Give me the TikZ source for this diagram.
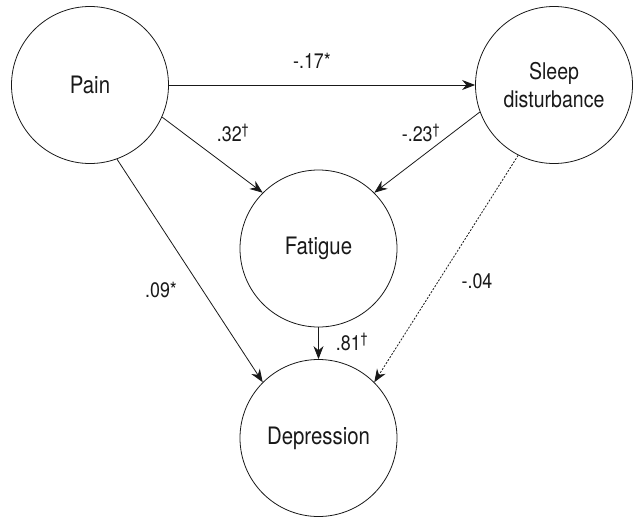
\documentclass[tikz,border=0pt]{standalone}
\usepackage{fontspec}
\setmainfont[FakeStretch=0.85]{TeX Gyre Heros}
\usetikzlibrary{arrows.meta}

\tikzset{
  var/.style={draw, circle, minimum size=157pt, inner sep=0pt, line width=0.8pt,
    align=center, font=\fontsize{24}{27}\selectfont},
  effect/.style={draw, line width=0.8pt, -{Stealth[length=13pt,width=10pt]}},
  coef/.style={inner sep=0pt, font=\fontsize{21}{21}\selectfont},
}

\begin{document}
\begin{tikzpicture}[x=1pt, y=-1pt, black!90]
  \useasboundingbox (0,0) rectangle (633,517);
  \node[var] (pain) at (90,85) {Pain};
  \node[var, font=\fontsize{23}{28}\selectfont] (sleep) at (554,85) {Sleep\\disturbance};
  \node[var] (fatigue) at (318.5,248.5) {Fatigue};
  \node[var] (depr) at (318.5,438) {Depression};
  \draw[effect] (pain.east) -- (sleep.west);
  \draw[effect] (pain.-24) -- (fatigue.135);
  \draw[effect] (sleep.200) -- (fatigue.45);
  \draw[effect] (pain.-70) -- (depr.135);
  \draw[effect, dash pattern=on 2pt off 1.5pt] (sleep.-117) -- (depr.45);
  \draw[effect] (fatigue.south) -- (depr.north);
  \node[coef] (c-ps) at (312,61) {-.17*};
  \node[coef] (c-pf) at (233,133) {.32\textsuperscript{\textdagger}};
  \node[coef] (c-sf) at (421,133) {-.23\textsuperscript{\textdagger}};
  \node[coef] (c-pd) at (161,290) {.09*};
  \node[coef] (c-sd) at (477,281.5) {-.04};
  \node[coef] (c-fd) at (352,342) {.81\textsuperscript{\textdagger}};
\end{tikzpicture}
\end{document}
